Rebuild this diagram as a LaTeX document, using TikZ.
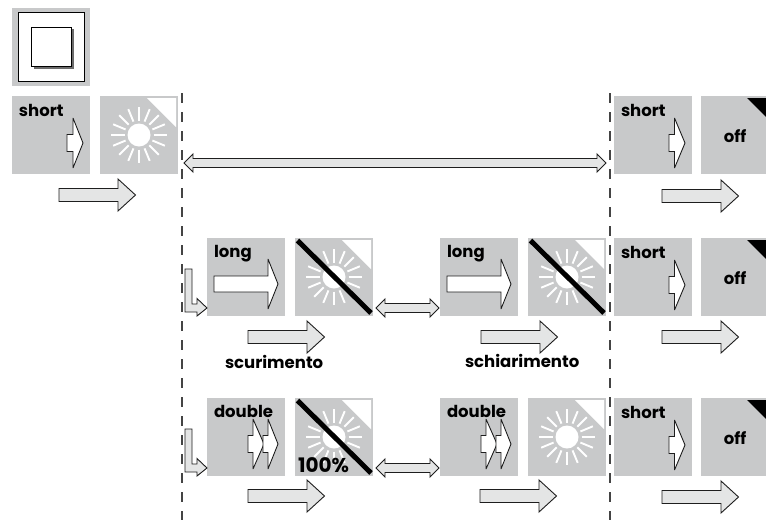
\documentclass[tikz,border=0pt]{standalone}
\usepackage{fontspec}
\setmainfont{Poppins}
\definecolor{panelgray}{HTML}{C8C9CA}
\definecolor{arrowgray}{HTML}{E4E5E5}
\definecolor{lineink}{HTML}{1E1E1E}
\definecolor{dashink}{HTML}{444444}
\tikzset{
  panel/.style={fill=panelgray,draw=none,minimum width=78pt,minimum height=78pt,inner sep=0pt,outer sep=0pt},
  blockline/.style={draw=lineink,line width=0.9pt,line join=miter,miter limit=3},
  guide/.style={draw=dashink,line width=1.1pt,dash pattern=on 10pt off 9pt},
  lbl/.style={anchor=base west,inner sep=0pt,outer sep=0pt,font=\fontsize{16.5}{18}\selectfont\bfseries,text=black},
  biglbl/.style={anchor=base west,inner sep=0pt,outer sep=0pt,font=\fontsize{20}{24}\selectfont\bfseries,text=black},
}
% right-pointing block arrow: left, head base, tip, centre y, half tail, half head, fill
\newcommand{\rarrow}[7]{\path[blockline,fill=#7] (#1,#4-#5) -- (#2,#4-#5) -- (#2,#4-#6) -- (#3,#4) -- (#2,#4+#6) -- (#2,#4+#5) -- (#1,#4+#5) -- cycle;}
\newcommand{\flowarrow}[2]{\rarrow{#1}{#1+59}{#1+76.5}{#2}{6.5}{16}{arrowgray}}
\newcommand{\biarrow}[3]{\path[blockline,fill=arrowgray] (#1,#3) -- (#1+9,#3-9) -- (#1+9,#3-4.5) -- (#2-9,#3-4.5) -- (#2-9,#3-9) -- (#2,#3) -- (#2-9,#3+9) -- (#2-9,#3+4.5) -- (#1+9,#3+4.5) -- (#1+9,#3+9) -- cycle;}
\newcommand{\elbow}[1]{\path[blockline,fill=arrowgray] (185,#1-39) -- (192,#1-39) -- (192,#1-4) -- (197,#1-4) -- (197,#1-9.5) -- (207,#1) -- (197,#1+8) -- (197,#1+4) -- (185,#1+4) -- cycle;}
% sun panel decoration: panel left x, panel top y
\newcommand{\sunface}[2]{%
  \fill[white] (#1+47,#2+2) -- (#1+76,#2+2) -- (#1+76,#2+31) -- cycle;
  \begin{scope}[shift={(#1+39,#2+39)}]
    \fill[white] (0,0) circle (11.5);
    \foreach \a in {0,22.5,...,337.5} {\draw[white,line width=1.9pt] (\a:14.5) -- (\a:28);}
  \end{scope}}
\newcommand{\crossbar}[2]{\draw[black,line width=5pt] (#1+2.5,#2+2.5) -- (#1+76,#2+75);}
% short/off pair at given top y
\newcommand{\shortoff}[2]{%
  \node[panel] (#2s) at (653,#1+39) {};
  \node[lbl] (#2st) at (621,#1+20) {short};
  \rarrow{669}{674.5}{685}{#1+47}{8.5}{25}{white}
  \fill[panelgray] (701,#1) rectangle (766,#1+78);
  \node[inner sep=0pt,anchor=base,font=\fontsize{16.5}{18}\selectfont\bfseries] (#2ot) at (735,#1+46) {off};
  \fill[black] (747,#1+2) -- (766,#1+2) -- (766,#1+21) -- cycle;}
\begin{document}
\begin{tikzpicture}[x=1pt,y=-1pt]
\useasboundingbox (0,0) rectangle (766,520);
\fill[white] (0,0) rectangle (766,520);
% wall switch
\node[panel] (switch) at (51,47) {};
\draw[black,line width=0.9pt,fill=white] (18,12.5) rectangle (84,81);
\fill[gray!85!black] (34,29) rectangle (74,69);
\draw[black,line width=0.9pt,fill=white] (31,27) rectangle (71,66.5);
% guides
\coordinate (ga) at (182,93);\coordinate (gb) at (182,520);
\coordinate (gc) at (610,93);\coordinate (gd) at (610,520);
\draw[guide] (ga) -- (gb);
\draw[guide] (gc) -- (gd);
% row 1
\node[panel] (p1) at (51,135) {};
\node[lbl] (t1) at (19,116) {short};
\rarrow{67}{73}{83}{143}{8.5}{25}{white}
\node[panel] (p2) at (139,135) {};
\sunface{100}{96}
\flowarrow{59}{195}
\biarrow{184}{606}{163}
\shortoff{96}{a}
\flowarrow{662}{196}
% row 2
\node[panel] (p3) at (246,277) {};
\node[lbl] (t3) at (214,257) {long};
\rarrow{214}{268}{278}{284}{8}{25}{white}
\node[panel] (p4) at (334,277) {};
\sunface{295}{238}
\crossbar{295}{238}
\elbow{308}
\flowarrow{248}{337}
\node[lbl] (t5) at (225,368) {scurimento};
\biarrow{376}{439}{308}
\node[panel] (p6) at (479,277) {};
\node[lbl] (t6) at (447,257) {long};
\rarrow{447}{501}{511}{284}{8}{25}{white}
\node[panel] (p7) at (567,277) {};
\sunface{528}{238}
\crossbar{528}{238}
\flowarrow{481}{337}
\node[lbl] (t7) at (465,367) {schiarimento};
\shortoff{238}{b}
\flowarrow{662}{337}
% row 3
\node[panel] (p8) at (246,437) {};
\node[lbl] (t8) at (214,417) {double};
\rarrow{248}{253}{264}{444}{8.5}{25}{white}
\rarrow{263}{268}{278}{444}{8.5}{25}{white}
\node[panel] (p9) at (334,437) {};
\sunface{295}{398}
\crossbar{295}{398}
\node[biglbl] (t9) at (298,472) {100\%};
\elbow{468}
\flowarrow{248}{496}
\biarrow{376}{439}{468}
\node[panel] (p10) at (479,437) {};
\node[lbl] (t10) at (447,417) {double};
\rarrow{481}{486}{497}{444}{8.5}{25}{white}
\rarrow{496}{501}{511}{444}{8.5}{25}{white}
\node[panel] (p11) at (567,437) {};
\sunface{528}{398}
\flowarrow{480}{496}
\shortoff{398}{c}
\flowarrow{662}{497}
\end{tikzpicture}
\end{document}
